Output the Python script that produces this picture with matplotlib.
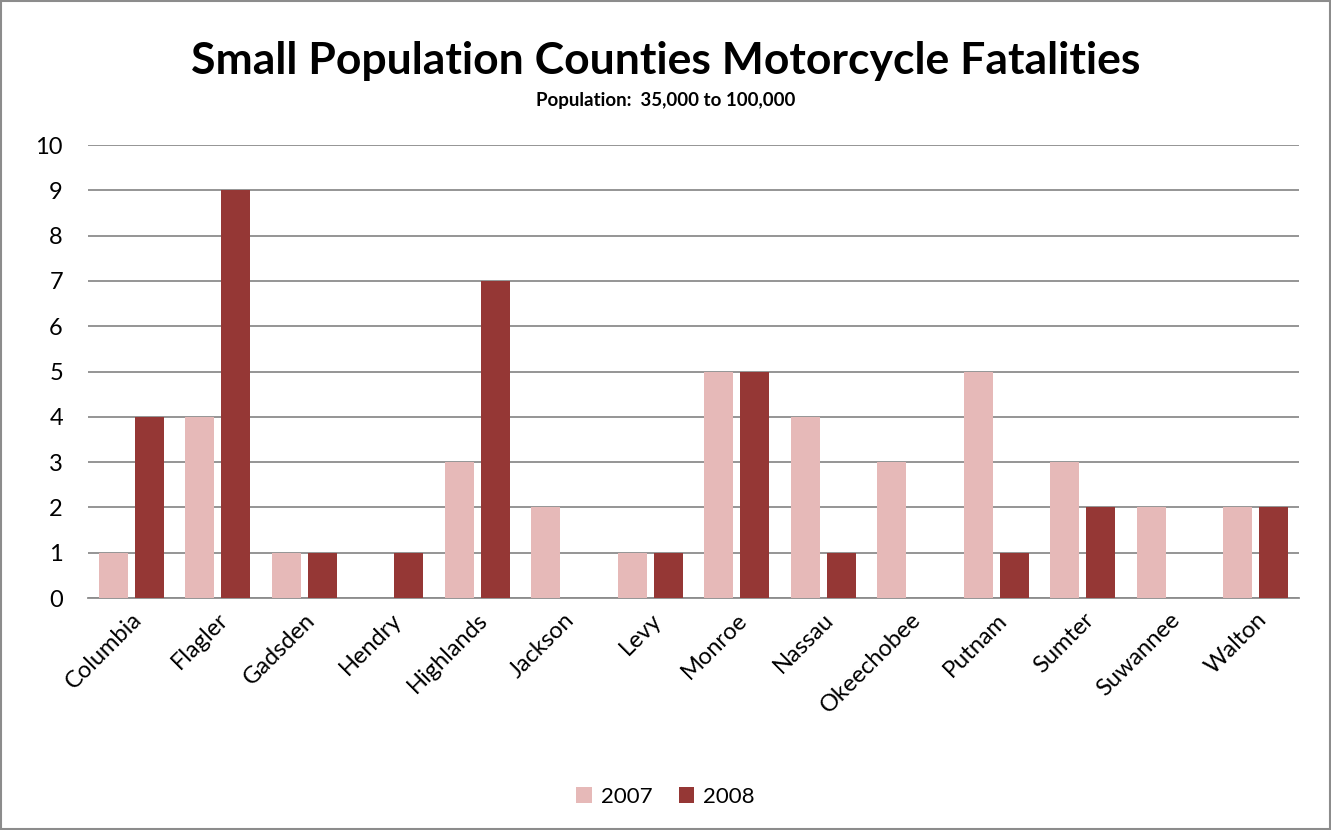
import matplotlib
matplotlib.use("Agg")
import matplotlib.pyplot as plt
import numpy as np
from matplotlib.patches import Rectangle

counties = ["Columbia", "Flagler", "Gadsden", "Hendry", "Highlands", "Jackson", "Levy",
            "Monroe", "Nassau", "Okeechobee", "Putnam", "Sumter", "Suwannee", "Walton"]
fat_2007 = [1, 4, 1, 0, 3, 2, 1, 5, 4, 3, 5, 3, 2, 2]
fat_2008 = [4, 9, 1, 1, 7, 0, 1, 5, 1, 0, 1, 2, 0, 2]
series_labels = ["2007", "2008"]
yticks = list(range(0, 11))

plt.rcParams['font.family'] = ['Lato', 'DejaVu Sans']

fig = plt.figure(figsize=(13.31, 8.30), dpi=100)
ax = fig.add_axes([0.0661, 0.2795, 0.9099, 0.5458])

x = np.arange(len(counties))
w = 0.335
off = 0.208
ax.bar(x - off, fat_2007, width=w, color="#E6B9B8", label=series_labels[0], zorder=3)
ax.bar(x + off, fat_2008, width=w, color="#953735", label=series_labels[1], zorder=3)

ax.set_xlim(-0.5, len(counties) - 0.5)
ax.set_ylim(0, 10)
ax.set_yticks(yticks)
ax.set_yticklabels([str(t) for t in yticks], fontsize=17)
ax.yaxis.grid(True, color="#8C8C8C", linewidth=1.3, zorder=0)
ax.set_axisbelow(True)
ax.set_xticks(x)
ax.set_xticklabels(counties, rotation=45, ha="right", rotation_mode="anchor", fontsize=17)
ax.tick_params(axis="x", length=0, pad=8)
ax.tick_params(axis="y", length=0, pad=18)
for s in ["top", "right", "left"]:
    ax.spines[s].set_visible(False)
ax.spines["bottom"].set_color("#8C8C8C")
ax.spines["bottom"].set_linewidth(1.3)

fig.text(0.5, 0.927, "Small Population Counties Motorcycle Fatalities", ha="center", va="center",
         fontsize=32, fontweight="bold")
fig.text(0.5, 0.879, "Population:  35,000 to 100,000", ha="center", va="center",
         fontsize=13.5, fontweight="bold")

leg = fig.legend(loc="center", bbox_to_anchor=(0.5, 0.04), ncol=2, frameon=False,
                 fontsize=16, handlelength=0.7, handleheight=0.7, handletextpad=0.4, columnspacing=1.2)

fig.patches.append(Rectangle((0.001, 0.001), 0.998, 0.998, transform=fig.transFigure,
                             fill=False, edgecolor="#8C8C8C", linewidth=1.5))

fig.savefig("out.png", dpi=100)
